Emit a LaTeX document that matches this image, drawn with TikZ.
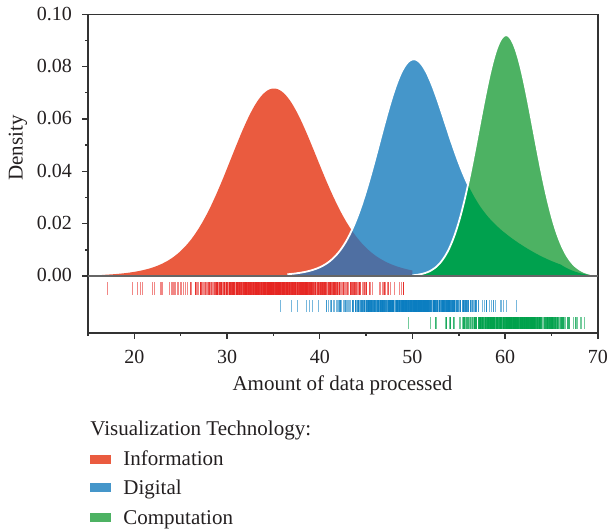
\documentclass[tikz,border=0pt]{standalone}
\usepackage{fontspec}
\setmainfont{Liberation Serif}
\usepackage{xcolor}
\definecolor{infocolor}{HTML}{EA5B3F}
\definecolor{digitalcolor}{HTML}{4596CA}
\definecolor{computecolor}{HTML}{4DB263}
\definecolor{infodigital}{HTML}{4F6FA2}
\definecolor{digitalcompute}{HTML}{00A14E}
\definecolor{infotick}{HTML}{E52521}
\definecolor{digitaltick}{HTML}{0A7DC1}
\definecolor{computetick}{HTML}{00A14B}
\definecolor{axiscolor}{HTML}{333333}
\definecolor{textcolor}{HTML}{231F20}

\newcommand{\infoarea}{(16.5,0) -- plot[domain=16.5:50] (\x,{finfo(\x)}) -- (50,0) -- cycle}
\newcommand{\digitalarea}{(36.5,0) -- plot[domain=36.5:70] (\x,{fdigital(\x)}) -- (70,0) -- cycle}
\newcommand{\computearea}{(50,0) -- plot[domain=50:69.8] (\x,{fcompute(\x)}) -- (69.8,0) -- cycle}

\begin{document}
\begin{tikzpicture}[x=0.5pt, y=0.5pt, samples=160,
    declare function={
      finfo(\x)=0.055*exp(-(\x-35)*(\x-35)/38.72)+0.0167*exp(-(\x-35.5)*(\x-35.5)/98);
      fdigital(\x)=0.063*exp(-(\x-49.8)*(\x-49.8)/23.12)+0.024*exp(-(\x-54)*(\x-54)/84.5)*min(1,(70-\x)/4);
      fcompute(\x)=0.092*exp(-(\x-60.1)*(\x-60.1)/17.4);
      gauss(\m,\s)=\m+\s*sqrt(-2*ln(max(rnd,0.0005)))*cos(360*rnd);
    },
    every node/.style={text=textcolor},
    rug/.style={line width=0.5pt, opacity=0.55},
    outline/.style={white, line width=0.9pt},
    axisline/.style={axiscolor, line width=0.7pt},
    ticklabel/.style={font=\fontsize{10}{12}\selectfont, inner sep=0pt},
    titlelabel/.style={font=\fontsize{10.5}{12}\selectfont, inner sep=0pt}]
    \useasboundingbox (0,0) rectangle (609,530);
    \begin{scope}[shift={(-25.525pt,127pt)}, x=4.635pt, y=1308.5pt]
        % Densities
        \fill[infocolor] \infoarea;
        \fill[digitalcolor] \digitalarea;
        \begin{scope}
            \clip \infoarea;
            \fill[infodigital] \digitalarea;
        \end{scope}
        \draw[outline] plot[domain=36.5:70] (\x,{fdigital(\x)});
        \fill[computecolor] \computearea;
        \begin{scope}
            \clip \digitalarea;
            \fill[digitalcompute] \computearea;
        \end{scope}
        \draw[outline] plot[domain=50:69.8] (\x,{fcompute(\x)});

        % Rug of the observations
        \pgfmathsetseed{42}
        \foreach \v in {17.1, 20.7, 20.9} {
            \draw[rug, infotick] (\v,-0.0023) -- (\v,-0.0073);
        }
        \foreach \i in {1,...,700} {
            \pgfmathsetmacro{\v}{min(49,gauss(35.5,5))}
            \draw[rug, infotick] (\v,-0.0023) -- (\v,-0.0073);
        }
        \foreach \v in {35.8, 38.6} {
            \draw[rug, digitaltick] (\v,-0.0092) -- (\v,-0.0138);
        }
        \foreach \i in {1,...,600} {
            \pgfmathsetmacro{\v}{max(37,min(61.2,gauss(50,4)))}
            \draw[rug, digitaltick] (\v,-0.0092) -- (\v,-0.0138);
        }
        \foreach \v in {49.6, 51.9} {
            \draw[rug, computetick] (\v,-0.0157) -- (\v,-0.0203);
        }
        \foreach \i in {1,...,520} {
            \pgfmathsetmacro{\v}{max(52.5,min(68.6,gauss(61,3)))}
            \draw[rug, computetick] (\v,-0.0157) -- (\v,-0.0203);
        }

        % Frame and ticks
        \draw[axisline] (15,0.1) -- (70,0.1) -- (70,-0.0218);
        \draw[axiscolor, line width=1pt] (15,0.1) -- (15,-0.0218) -- (70,-0.0218);
        \draw[gray!80!black, line width=0.7pt] (15,0) -- (70,0);
        \foreach \y/\lab in {0/0.00, 0.02/0.02, 0.04/0.04, 0.06/0.06, 0.08/0.08, 0.1/0.10} {
            \draw[axisline] (15,\y) -- ++(-0.65,0);
            \node[ticklabel, anchor=base east] (ylab\lab) at (13.3,\y-0.0022) {\lab};
        }
        \foreach \y in {0.01, 0.03, 0.05, 0.07, 0.09} {
            \draw[axisline] (15,\y) -- ++(-0.32,0);
        }
        \foreach \x in {20,30,...,70} {
            \draw[axisline] (\x,-0.0218) -- ++(0,-0.0023);
            \node[ticklabel, anchor=base] (xlab\x) at (\x,-0.0333) {\x};
        }
        \foreach \x in {15,25,...,65} {
            \draw[axisline] (\x,-0.0218) -- ++(0,-0.00115);
        }
        \node[titlelabel, rotate=90] (ytitle) at (7.45,0.0489) {Density};
        \node[titlelabel, anchor=base] (xtitle) at (42.45,-0.0436) {Amount of data processed};
    \end{scope}

    % Legend
    \node[titlelabel, anchor=base west] (legtitle) at (90,95) {Visualization Technology:};
    \foreach \yy/\name/\col in {64.3/Information/infocolor, 35.7/Digital/digitalcolor, 6/Computation/computecolor} {
        \fill[\col] (90,\yy+2) rectangle (111,\yy+11);
        \node[titlelabel, anchor=base west] (leg\name) at (123,\yy) {\name};
    }
\end{tikzpicture}
\end{document}
